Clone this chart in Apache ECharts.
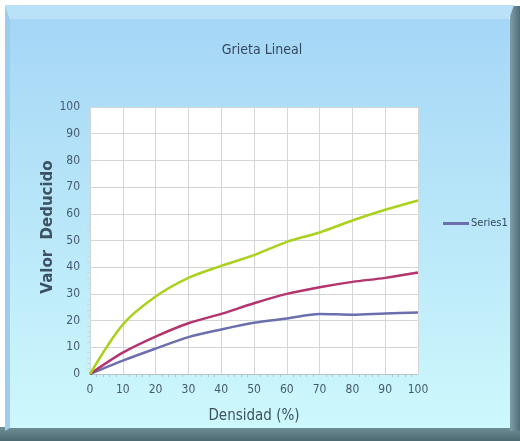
<!DOCTYPE html>
<html>
<head>
<meta charset="utf-8">
<script src="https://cdn.jsdelivr.net/npm/echarts@6/dist/echarts.min.js"></script>
<style>
  html, body { margin: 0; padding: 0; background: #ffffff; }
  #chart { width: 520px; height: 441px; }
</style>
</head>
<body>
<div id="chart"></div>
<script>
// Densidad (%) along the x axis
const densidad = [0, 10, 20, 30, 40, 50, 60, 70, 80, 90, 100];
// Valor deducido curves
const curvaAlta = [0, 18.5, 29, 36, 40.5, 44.5, 49.5, 53, 57.5, 61.5, 65];
const curvaMedia = [0, 8, 14, 19, 22.5, 26.5, 30, 32.5, 34.5, 36, 38];
const curvaBaja = [0, 5, 9.5, 13.8, 16.7, 19.2, 20.8, 22.5, 22.2, 22.7, 23];

const pairs = (ys) => densidad.map((x, i) => [x, ys[i]]);

const chart = echarts.init(document.getElementById('chart'), null, { renderer: 'canvas' });

const textColor = '#465a6e';
const font = '"DejaVu Sans Condensed", "Liberation Sans", sans-serif';

chart.setOption({
  backgroundColor: '#ffffff',
  animation: false,
  graphic: [
    // dark bottom and right edges of the frame
    { type: 'rect', z: -10, shape: { x: 0, y: 427, width: 520, height: 14 },
      style: { fill: new echarts.graphic.LinearGradient(0, 0, 0, 1, [
        { offset: 0, color: '#6f8f96' }, { offset: 1, color: '#4d6a72' }]) } },
    { type: 'rect', z: -10, shape: { x: 510, y: 6, width: 10, height: 425 },
      style: { fill: new echarts.graphic.LinearGradient(0, 0, 1, 0, [
        { offset: 0, color: '#7f9ea8' }, { offset: 1, color: '#4f6d78' }]) } },
    // light bevel on top and left
    { type: 'polygon', z: -9, shape: { points: [[5, 5], [514, 5], [509, 19], [10, 19]] },
      style: { fill: '#b9e1f7' } },
    { type: 'polygon', z: -9, shape: { points: [[5, 5], [10, 19], [10, 428], [5, 431]] },
      style: { fill: '#9ccdec' } },
    // panel body
    { type: 'rect', z: -8, shape: { x: 10, y: 19, width: 500, height: 409 },
      style: { fill: new echarts.graphic.LinearGradient(0, 0, 0, 1, [
        { offset: 0, color: '#a5d6f6' }, { offset: 1, color: '#cdf8fc' }]) } },
    // vertical axis title
    { type: 'text', z: 10, x: 48, y: 227, rotation: Math.PI / 2,
      style: { text: 'Valor  Deducido', fill: '#3d5163',
        font: 'bold 15px "DejaVu Sans", Verdana, sans-serif',
        align: 'center', verticalAlign: 'middle' } }
  ],
  title: {
    text: 'Grieta Lineal',
    left: 257, top: 38, textAlign: 'center',
    textStyle: { color: '#34495e', fontSize: 14, fontWeight: 'normal', fontFamily: font }
  },
  legend: {
    data: ['Series1'],
    left: 438, top: 213,
    icon: 'rect', itemWidth: 26, itemHeight: 3, itemGap: 4,
    textStyle: { color: '#34495e', fontSize: 11, fontFamily: font, padding: [0, 0, 0, -3] }
  },
  grid: { left: 90, right: 102, top: 107, bottom: 67, backgroundColor: '#ffffff', show: true, borderWidth: 0 },
  xAxis: {
    type: 'value', min: 0, max: 100, interval: 10,
    name: 'Densidad (%)', nameLocation: 'middle', nameGap: 35,
    nameTextStyle: { color: '#3d5163', fontSize: 15, fontFamily: font },
    axisLine: { lineStyle: { color: '#b8c2c8', width: 1 } },
    axisTick: { show: false },
    minorTick: { show: true, splitNumber: 5, length: 3, lineStyle: { color: '#b8c2c8' } },
    axisLabel: { color: textColor, fontSize: 12, margin: 10, fontFamily: font },
    splitLine: { lineStyle: { color: '#d6d6d6', width: 1 } }
  },
  yAxis: {
    type: 'value', min: 0, max: 100, interval: 10,
    axisLine: { show: true, lineStyle: { color: '#cfd6da', width: 1 } },
    axisTick: { show: false },
    minorTick: { show: true, splitNumber: 5, length: 3, lineStyle: { color: '#cfd6da' } },
    axisLabel: { color: textColor, fontSize: 12, margin: 10, fontFamily: font },
    splitLine: { lineStyle: { color: '#d6d6d6', width: 1 } }
  },
  series: [
    { name: 'Series1', type: 'line', smooth: 0.3, showSymbol: false, data: pairs(curvaBaja),
      lineStyle: { color: '#6c6fae', width: 2.5 }, itemStyle: { color: '#6c6fae' }, z: 3 },
    { name: 'Series2', type: 'line', smooth: 0.3, showSymbol: false, data: pairs(curvaMedia),
      lineStyle: { color: '#b3346e', width: 2.5 }, itemStyle: { color: '#b3346e' }, z: 3 },
    { name: 'Series3', type: 'line', smooth: 0.3, showSymbol: false, data: pairs(curvaAlta),
      lineStyle: { color: '#a9d11e', width: 2.5 }, itemStyle: { color: '#a9d11e' }, z: 3 }
  ]
});
</script>
</body>
</html>
